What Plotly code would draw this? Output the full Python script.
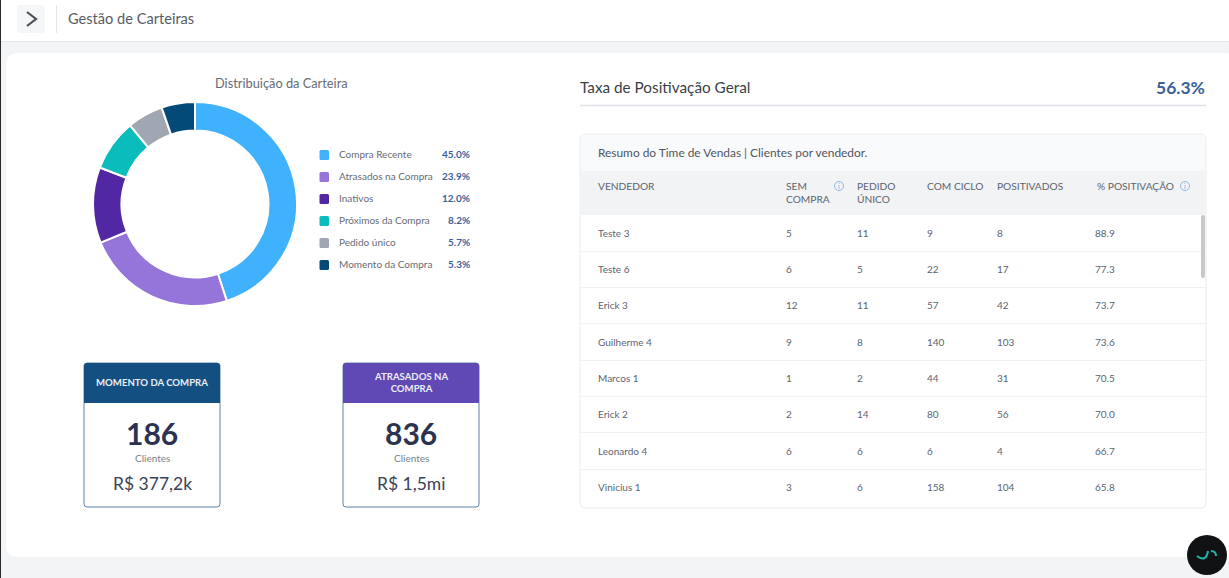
import plotly.graph_objects as go

W = 1229
H = 578

# donut
segments = ['Compra Recente', 'Atrasados na Compra', 'Inativos', 'Próximos da Compra', 'Pedido único', 'Momento da Compra']
shares = [45.0, 23.9, 12.0, 8.2, 5.7, 5.3]
colors = ['#3fb1fd', '#9575da', '#5127a3', '#0bbcbc', '#a0a6b2', '#044a78']

# summary cards
card_titles = ['MOMENTO DA COMPRA', 'ATRASADOS NA<br>COMPRA']
card_counts = ['186', '836']
card_money = ['R$ 377,2k', 'R$ 1,5mi']
card_colors = ['#134f80', '#6048b5']

# table
columns = ['VENDEDOR', 'SEM<br>COMPRA', 'PEDIDO<br>ÚNICO', 'COM CICLO', 'POSITIVADOS', '% POSITIVAÇÃO']
vendedores = ['Teste 3', 'Teste 6', 'Erick 3', 'Guilherme 4', 'Marcos 1', 'Erick 2', 'Leonardo 4', 'Vinicius 1']
sem_compra = [5, 6, 12, 9, 1, 2, 6, 3]
pedido_unico = [11, 5, 11, 8, 2, 14, 6, 6]
com_ciclo = [9, 22, 57, 140, 44, 80, 6, 158]
positivados = [8, 17, 42, 103, 31, 56, 4, 104]
positivacao = ['88.9', '77.3', '73.7', '73.6', '70.5', '70.0', '66.7', '65.8']

FONT = 'Lato'
TEXT = '#5c6470'
shapes = []
notes = []


def rect(x0, y0, x1, y1, fill, line=None, width=1):
    shapes.append(dict(type='rect', xref='x', yref='y', x0=x0, y0=y0, x1=x1, y1=y1, fillcolor=fill,
                       line=dict(color=line or fill, width=width if line else 0), layer='below'))


# rectangle with rounded corners, top/bottom rounding can be switched off
def rounded(x0, y0, x1, y1, r, fill, line=None, width=1, top=True, bottom=True):
    rt = r if top else 0
    rb = r if bottom else 0
    p = (f'M{x0 + rt},{y0} L{x1 - rt},{y0} Q{x1},{y0} {x1},{y0 + rt} L{x1},{y1 - rb} Q{x1},{y1} {x1 - rb},{y1} '
         f'L{x0 + rb},{y1} Q{x0},{y1} {x0},{y1 - rb} L{x0},{y0 + rt} Q{x0},{y0} {x0 + rt},{y0} Z')
    shapes.append(dict(type='path', xref='x', yref='y', path=p, fillcolor=fill,
                       line=dict(color=line or fill, width=width if line else 0), layer='below'))


def hline(x0, x1, y, color, width=1):
    shapes.append(dict(type='line', xref='x', yref='y', x0=x0, x1=x1, y0=y, y1=y,
                       line=dict(color=color, width=width), layer='below'))


def text(x, y, s, size=10, color=TEXT, anchor='left', weight=None):
    if weight:
        s = f'<b>{s}</b>'
    notes.append(dict(xref='x', yref='y', x=x, y=y, text=s, showarrow=False, xanchor=anchor, yanchor='middle',
                      align=anchor, borderpad=0, borderwidth=0, font=dict(family=FONT, size=size, color=color)))


# page background, top bar and main card
rect(0, 0, W, H, '#f3f4f6')
rect(0, 0, W, 41, '#ffffff')
hline(0, W, 41.5, '#e3e5e8')
rounded(6, 53, W + 8, 557, 12, '#ffffff')
rect(0, 0, 1, H, '#2a2a2a')
rounded(17, 5, 45, 33, 3, '#f5f6f8')
shapes.append(dict(type='path', xref='x', yref='y', path='M27,12 L36,19 L27,26', line=dict(color='#4a4f57', width=2.2)))
shapes.append(dict(type='line', xref='x', yref='y', x0=56.5, x1=56.5, y0=5, y1=33, line=dict(color='#e3e5e8', width=1)))
text(68, 18.5, 'Gestão de Carteiras', size=14.6, color='#565c66')

# donut title and legend
text(281.5, 82.5, 'Distribuição da Carteira', size=12.8, color='#666c76', anchor='center')
legend_y = [155, 177, 199, 221, 243, 265]
for name, share, col, y in zip(segments, shares, colors, legend_y):
    rounded(319.5, y - 5, 329, y + 5, 1.5, col)
    text(339, y - 1, name, size=10, color='#666c76')
    text(470, y - 1, f'{share:.1f}%', size=10, color='#3c5f9a', anchor='right', weight=True)

# cards
for x0, title, count, money, col in zip([84, 343], card_titles, card_counts, card_money, card_colors):
    rounded(x0, 363, x0 + 136, 507, 3, '#ffffff', line='#5f83a8', width=1)
    rounded(x0, 363, x0 + 136, 403, 3, col, bottom=False)
    text(x0 + 68, 382.5, title, size=9.6, color='#e9eef6', anchor='center', weight=True)
    text(x0 + 68, 432.5, count, size=30, color='#2b3350', anchor='center', weight=True)
    text(x0 + 68, 458, 'Clientes', size=10, color='#7a808a', anchor='center')
    text(x0 + 68, 483.5, money, size=17.5, color='#3a4256', anchor='center')

# positivacao header
text(580, 87, 'Taxa de Positivação Geral', size=15.3, color='#3a3f47')
text(1205, 87.5, '56.3%', size=17.5, color='#3c5f9a', anchor='right', weight=True)
hline(580, 1206, 105.5, '#dfe2e6', 1.5)

# table frame
rounded(580, 134, 1206, 508, 6, '#ffffff', line='#e8eaed', width=1)
rounded(581, 135, 1205, 171, 6, '#f9fafb', bottom=False)
rect(581, 171, 1205, 215, '#f1f3f5')
text(598, 152.5, 'Resumo do Time de Vendas | Clientes por vendedor.', size=11.9, color='#50565f')

col_x = [598, 786, 857, 927, 997, 1097]
for x, name in zip(col_x, columns):
    text(x, 192 if '<br>' in name else 186, name, size=10.2, color='#5c6470')
for cx in [839, 1185]:
    shapes.append(dict(type='circle', xref='x', yref='y', x0=cx - 4.5, x1=cx + 4.5, y0=181.5, y1=190.5,
                       line=dict(color='#8db9e8', width=1)))
    text(cx, 186, 'i', size=7, color='#6aa3de', anchor='center')

row_y = [233, 269, 305, 342, 378, 414, 451, 487]
for i, y in enumerate(row_y):
    if i < len(row_y) - 1:
        hline(581, 1205, y + 18.5, '#eef0f2')
    cells = [vendedores[i], sem_compra[i], pedido_unico[i], com_ciclo[i], positivados[i], positivacao[i]]
    col_pos = [598, 786, 857, 927, 997, 1095]
    for x, cell in zip(col_pos, cells):
        text(x, y, str(cell), size=10, color='#5c6470')

# scrollbar
rounded(1201, 215, 1205, 278, 2, '#c6c8cb')

# chat button
shapes.append(dict(type='circle', xref='x', yref='y', x0=1187, x1=1227, y0=535, y1=575,
                   fillcolor='#101214', line=dict(width=0)))
shapes.append(dict(type='path', xref='x', yref='y', path='M1197,556 Q1206,563 1208,551',
                   line=dict(color='#1fb5ad', width=2)))
shapes.append(dict(type='path', xref='x', yref='y', path='M1211,551 Q1216,551 1216,556',
                   line=dict(color='#1fb5ad', width=2)))

fig = go.Figure(go.Pie(
    labels=segments,
    values=shares,
    marker=dict(colors=colors, line=dict(color='#ffffff', width=2)),
    hole=0.72,
    sort=False,
    direction='clockwise',
    rotation=0,
    textinfo='none',
    showlegend=False,
    domain=dict(x=[93 / W, 297 / W], y=[1 - 306 / H, 1 - 102 / H]),
))

fig.update_layout(
    width=W,
    height=H,
    margin=dict(l=0, r=0, t=0, b=0),
    paper_bgcolor='#ffffff',
    plot_bgcolor='rgba(0,0,0,0)',
    xaxis=dict(range=[0, W], visible=False, fixedrange=True),
    yaxis=dict(range=[H, 0], visible=False, fixedrange=True),
    shapes=shapes,
    annotations=notes,
)

fig.write_html('out.html', config={'displayModeBar': False},
               post_script="document.body.style.margin='0';document.body.style.overflow='hidden';")
